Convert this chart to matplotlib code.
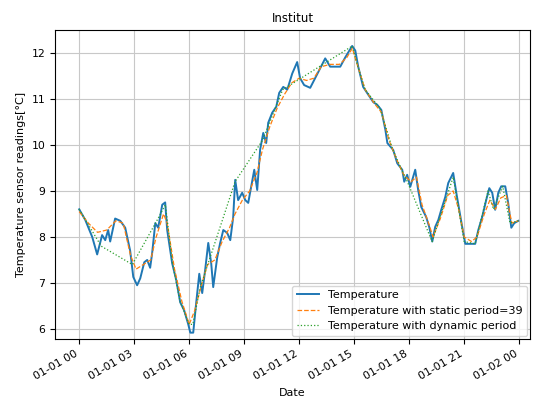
import numpy as np
import pandas as pd
import matplotlib
matplotlib.use('Agg')
import matplotlib.pyplot as plt
import matplotlib.dates as mdates

# ── data (hours after midnight, temperature in °C) ───────────────────────────
BASE = pd.Timestamp("2019-01-01")

temp_hours = [0.00, 0.33, 0.71, 0.98, 1.25, 1.42, 1.58, 1.69, 1.96, 2.24,
              2.51, 2.78, 2.95, 3.16, 3.33, 3.55, 3.71, 3.87, 3.98, 4.15,
              4.31, 4.53, 4.69, 4.80, 5.07, 5.29, 5.51, 5.73, 5.95, 6.06,
              6.22, 6.38, 6.55, 6.71, 6.87, 7.04, 7.20, 7.31, 7.53, 7.69,
              7.86, 8.07, 8.24, 8.40, 8.51, 8.67, 8.89, 9.06, 9.22, 9.38,
              9.55, 9.71, 9.87, 10.04, 10.20, 10.31, 10.53, 10.75, 10.91, 11.13,
              11.35, 11.62, 11.89, 12.05, 12.27, 12.60, 12.87, 13.42, 13.69, 14.24,
              14.51, 14.89, 15.06, 15.22, 15.49, 15.77, 16.04, 16.26, 16.48, 16.70,
              16.81, 17.13, 17.35, 17.62, 17.73, 17.89, 18.06, 18.33, 18.49, 18.66,
              18.93, 19.09, 19.26, 19.42, 19.59, 19.75, 19.97, 20.13, 20.40, 20.57,
              20.73, 20.89, 21.06, 21.33, 21.60, 21.77, 21.98, 22.20, 22.37, 22.53,
              22.69, 22.86, 23.02, 23.24, 23.40, 23.57, 23.73, 23.95]
temp_vals = [8.60, 8.37, 8.00, 7.62, 8.04, 7.93, 8.15, 7.90, 8.40, 8.35,
             8.20, 7.70, 7.13, 6.95, 7.10, 7.45, 7.50, 7.33, 7.65, 8.30,
             8.20, 8.70, 8.75, 8.15, 7.43, 7.07, 6.58, 6.40, 6.10, 5.92,
             5.92, 6.56, 7.20, 6.78, 7.28, 7.87, 7.43, 6.91, 7.56, 7.87,
             8.15, 8.09, 7.93, 8.43, 9.24, 8.80, 8.96, 8.80, 8.74, 9.09,
             9.46, 9.02, 9.90, 10.26, 10.04, 10.48, 10.70, 10.83, 11.13, 11.26,
             11.20, 11.55, 11.80, 11.45, 11.30, 11.24, 11.45, 11.88, 11.70, 11.70,
             11.90, 12.15, 12.05, 11.70, 11.26, 11.09, 10.93, 10.87, 10.76, 10.33,
             10.04, 9.89, 9.60, 9.46, 9.20, 9.35, 9.09, 9.46, 9.02, 8.65,
             8.43, 8.22, 7.90, 8.22, 8.37, 8.59, 8.87, 9.17, 9.39, 8.96,
             8.59, 8.22, 7.85, 7.85, 7.85, 8.15, 8.43, 8.80, 9.06, 8.96,
             8.59, 8.96, 9.10, 9.10, 8.74, 8.20, 8.30, 8.35]

static_hours = [0.0, 0.5, 1.0, 1.5, 2.0, 2.4, 2.8, 3.1, 3.5, 3.9,
                4.2, 4.6, 4.8, 5.2, 5.6, 6.0, 6.3, 6.7, 7.0, 7.4,
                7.8, 8.2, 8.5, 8.9, 9.3, 9.7, 10.0, 10.4, 10.8, 11.2,
                11.6, 12.0, 12.4, 12.8, 13.2, 13.7, 14.2, 14.6, 14.9, 15.2,
                15.6, 16.1, 16.5, 16.9, 17.3, 17.7, 18.1, 18.4, 18.7, 19.1,
                19.3, 19.7, 20.1, 20.4, 20.7, 21.0, 21.4, 21.7, 22.1, 22.4,
                22.7, 23.0, 23.3, 23.6, 23.95]
static_vals = [8.55, 8.30, 8.10, 8.15, 8.35, 8.30, 7.60, 7.30, 7.40, 7.50,
               8.00, 8.50, 8.30, 7.30, 6.60, 6.10, 6.40, 7.00, 7.40, 7.50,
               7.90, 8.20, 8.50, 8.80, 9.00, 9.40, 9.90, 10.40, 10.80, 11.10,
               11.35, 11.45, 11.40, 11.45, 11.70, 11.75, 11.75, 11.90, 12.10, 11.70,
               11.20, 10.90, 10.70, 10.10, 9.70, 9.35, 9.20, 9.30, 8.70, 8.25,
               8.00, 8.40, 8.90, 9.00, 8.60, 8.00, 7.90, 8.00, 8.50, 8.80,
               8.60, 8.85, 8.90, 8.30, 8.35]

dynamic_hours = [0.0, 0.6, 1.2, 2.9, 4.3, 4.7, 5.1, 5.5, 6.0, 6.2,
                 6.6, 8.5, 10.0, 10.5, 11.1, 12.3, 14.9, 15.2, 15.6, 16.4,
                 17.1, 17.6, 17.9, 19.25, 20.4, 21.0, 21.6, 22.3, 22.6, 23.1,
                 23.5, 23.95]
dynamic_vals = [8.60, 8.20, 7.80, 7.40, 8.40, 8.70, 7.40, 6.60, 6.10, 6.10,
                6.90, 9.20, 10.10, 10.60, 11.20, 11.50, 12.15, 11.70, 11.20, 10.80,
                9.90, 9.45, 9.20, 7.90, 9.30, 7.90, 7.85, 9.00, 8.60, 9.10,
                8.30, 8.35]

series_labels = ["Temperature",
                 "Temperature with static period=39",
                 "Temperature with dynamic period"]


def to_dates(hours):
    return BASE + pd.to_timedelta(np.array(hours), unit='h')


# ── plot ──────────────────────────────────────────────────────────────────────
plt.rcParams['font.family'] = ['DejaVu Sans']
fig = plt.figure(figsize=(5.41, 3.98), dpi=100)
ax = fig.add_axes([0.102, 0.148, 0.878, 0.777])

ax.plot(to_dates(temp_hours), temp_vals, color='C0', linewidth=1.4,
        label=series_labels[0])
ax.plot(to_dates(static_hours), static_vals, color='C1', linewidth=0.9,
        linestyle='--', label=series_labels[1])
ax.plot(to_dates(dynamic_hours), dynamic_vals, color='C2', linewidth=0.9,
        linestyle=':', label=series_labels[2])

ax.set_xlim(BASE - pd.Timedelta(hours=1.31), BASE + pd.Timedelta(hours=24.6))
ax.set_ylim(5.78, 12.5)
ax.set_yticks([6, 7, 8, 9, 10, 11, 12])
ax.xaxis.set_major_locator(mdates.HourLocator(byhour=range(0, 24, 3)))
ax.xaxis.set_major_formatter(mdates.DateFormatter('%m-%d %H'))
ax.grid(True, color='#c8c8c8', linewidth=0.8)
ax.tick_params(labelsize=7.8)
for lbl in ax.get_xticklabels():
    lbl.set_rotation(30)
    lbl.set_ha('right')

ax.set_title("Institut", fontsize=8.5)
ax.set_xlabel("Date", fontsize=8)
ax.set_ylabel("Temperature sensor readings[°C]", fontsize=8)
ax.legend(loc='lower right', fontsize=8, borderaxespad=0.3)

fig.savefig("out.png", dpi=100)
